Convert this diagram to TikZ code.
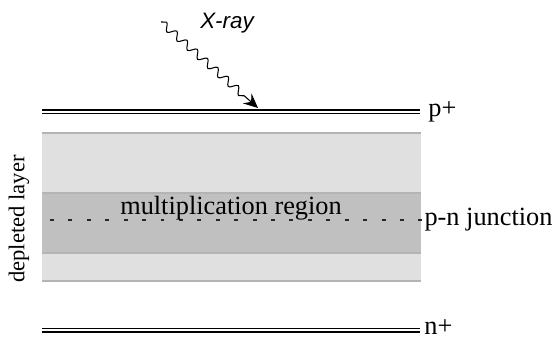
\documentclass[tikz,border=0pt]{standalone}
\usepackage{fontspec}
\setmainfont{Liberation Serif}
\newfontfamily\raysans{Liberation Sans}
\usetikzlibrary{positioning,arrows.meta,decorations.pathmorphing}
\definecolor{depllight}{HTML}{E0E0E0}
\definecolor{deplmid}{HTML}{C0C0C0}
\definecolor{depledge}{HTML}{B4B4B4}
\begin{document}
\begin{tikzpicture}[
  x=0.38pt, y=-0.38pt,
  contact/.style={draw=black,line width=0.4pt,double=white,double distance=1.1pt},
  layeredge/.style={draw=depledge,line width=0.6pt},
  junction/.style={draw=black!85,line width=0.4pt,dash pattern=on 1.5pt off 5.5pt},
  lbl/.style={inner sep=0pt,font=\fontsize{10}{12}\selectfont},
  xray/.style={decorate,decoration={snake,amplitude=1.4pt,segment length=5.2pt,post length=6pt},
    -{Stealth[length=5.5pt,width=5pt,inset=2pt]},line width=0.4pt}
]
\useasboundingbox (0,0) rectangle (556,338);

% depleted layer
\fill[depllight] (42,133) rectangle (421,281);
\fill[deplmid] (42,193) rectangle (421,253);
\foreach \yy in {133,193,253,281}
  \draw[layeredge] (42,\yy) -- (421,\yy);

% contacts
\coordinate (ptl) at (42,112);
\coordinate (ptr) at (420,112);
\coordinate (ntl) at (42,330);
\coordinate (ntr) at (420,330);
\draw[contact] (ptl) -- (ptr);
\draw[contact] (ntl) -- (ntr);
\node[lbl,anchor=west,right=3pt of ptr] (pplus) {p+};
\node[lbl,anchor=west,right=1.5pt of ntr,yshift=1pt] (nplus) {n+};

% junction
\coordinate (jl) at (50,220);
\node[lbl,anchor=west] (pn) at (424,220) {p-n junction};
\draw[junction] (jl) -- (pn.west);
\node[lbl] (mult) at (231,208) {multiplication region};
\node[lbl,rotate=90,font=\fontsize{8.6}{10}\selectfont] (depl) at (19,219) {depleted layer};

% incoming photon
\coordinate (src) at (161,22);
\coordinate (hit) at (258,108);
\draw[xray] (src) -- (hit);
\node[inner sep=0pt,font=\raysans\itshape\fontsize{8.5}{10}\selectfont] (xr) at (227,23) {X-ray};

\end{tikzpicture}
\end{document}
